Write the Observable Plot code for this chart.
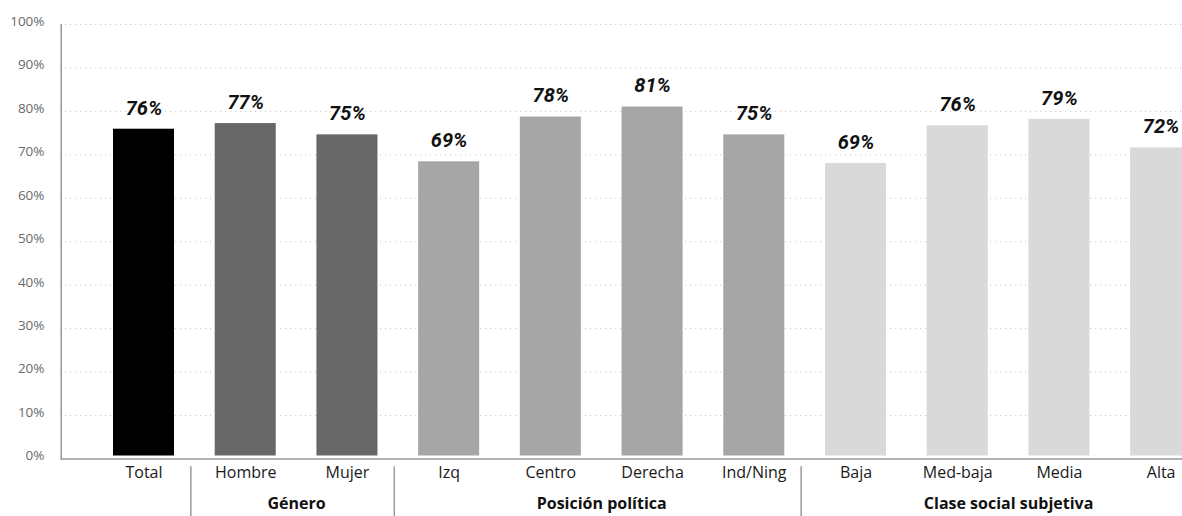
<!DOCTYPE html>
<html>
<head>
<meta charset="utf-8">
<script src="https://cdn.jsdelivr.net/npm/d3@7"></script>
<script src="https://cdn.jsdelivr.net/npm/@observablehq/plot@0.6"></script>
<style>
  html, body { margin: 0; padding: 0; background: #fff; overflow: hidden; }
  #chart svg { overflow: hidden; display: block; }
</style>
</head>
<body>
<div id="chart"></div>
<script>
const categories = ["Total", "Hombre", "Mujer", "Izq", "Centro", "Derecha", "Ind/Ning", "Baja", "Med-baja", "Media", "Alta"];
const values = [75.9, 77.2, 74.6, 68.4, 78.7, 81.0, 74.6, 68.0, 76.7, 78.2, 71.6];
const valueLabels = ["76%", "77%", "75%", "69%", "78%", "81%", "75%", "69%", "76%", "79%", "72%"];
const groupOf = ["Total", "Género", "Género", "Posición política", "Posición política", "Posición política", "Posición política",
  "Clase social subjetiva", "Clase social subjetiva", "Clase social subjetiva", "Clase social subjetiva"];
const groupNames = ["Género", "Posición política", "Clase social subjetiva"];
const groupColors = ["#000000", "#676767", "#a6a6a6", "#d9d9d9"];
const colorGroups = ["Total", "Género", "Posición política", "Clase social subjetiva"];
const yTicks = [0, 10, 20, 30, 40, 50, 60, 70, 80, 90, 100];
const yTickLabels = ["0%", "10%", "20%", "30%", "40%", "50%", "60%", "70%", "80%", "90%", "100%"];

const data = categories.map((c, i) => ({cat: c, i, value: values[i], label: valueLabels[i], group: groupOf[i]}));
const groups = groupNames.map(g => {
  const idx = data.filter(d => d.group === g).map(d => d.i);
  return {name: g, first: d3.min(idx), last: d3.max(idx), mid: (d3.min(idx) + d3.max(idx)) / 2};
});
const ticks = yTicks.map((t, k) => ({t, label: yTickLabels[k]}));

const sans = "'Open Sans', 'DejaVu Sans', sans-serif";
const bold = "Roboto, 'DejaVu Sans', sans-serif";

const chart = Plot.plot({
  width: 1182,
  height: 516,
  marginLeft: 60,
  marginRight: 0,
  marginTop: 24,
  marginBottom: 57.5,
  style: {fontFamily: sans, background: "#fff"},
  x: {type: "linear", domain: [-0.821, 10.21], axis: null},
  y: {domain: [0, 100], axis: null},
  color: {domain: colorGroups, range: groupColors},
  marks: [
    Plot.ruleY(yTicks.filter(t => t > 0), {stroke: "#c8c8c8", strokeWidth: 1, strokeDasharray: "1.2,3.8"}),
    Plot.rectY(data, {x1: d => d.i - 0.3, x2: d => d.i + 0.3, y: "value", fill: "group", insetBottom: 3}),
    Plot.text(data, {x: "i", y: "value", text: "label", dy: -21, fontSize: 20, fontWeight: "bold", fontStyle: "italic", fill: "#111", fontFamily: bold}),
    Plot.ruleY([0], {stroke: "#9a9a9a", strokeWidth: 1.5}),
    Plot.ruleX([-0.821], {y1: 0, y2: 100, stroke: "#9a9a9a", strokeWidth: 1.5, dx: 0.75}),
    Plot.text(ticks, {y: "t", text: "label", frameAnchor: "left", textAnchor: "end", dx: -16, dy: -3, fontSize: 13.5, fill: "#6a6a6a", fontFamily: sans}),
    Plot.text(data, {x: "i", frameAnchor: "bottom", dy: 19, text: "cat", fontSize: 16, fill: "#1a1a1a", fontFamily: sans}),
    Plot.ruleX(groups, {x: d => d.first - 0.5, y1: -1.8, y2: -14, stroke: "#9a9a9a", strokeWidth: 1.5, dx: -4}),
    Plot.text(groups, {x: "mid", frameAnchor: "bottom", dy: 50, text: "name", fontSize: 16, fontWeight: "bold", fill: "#111", fontFamily: sans})
  ]
});
document.getElementById("chart").appendChild(chart);
</script>
</body>
</html>
